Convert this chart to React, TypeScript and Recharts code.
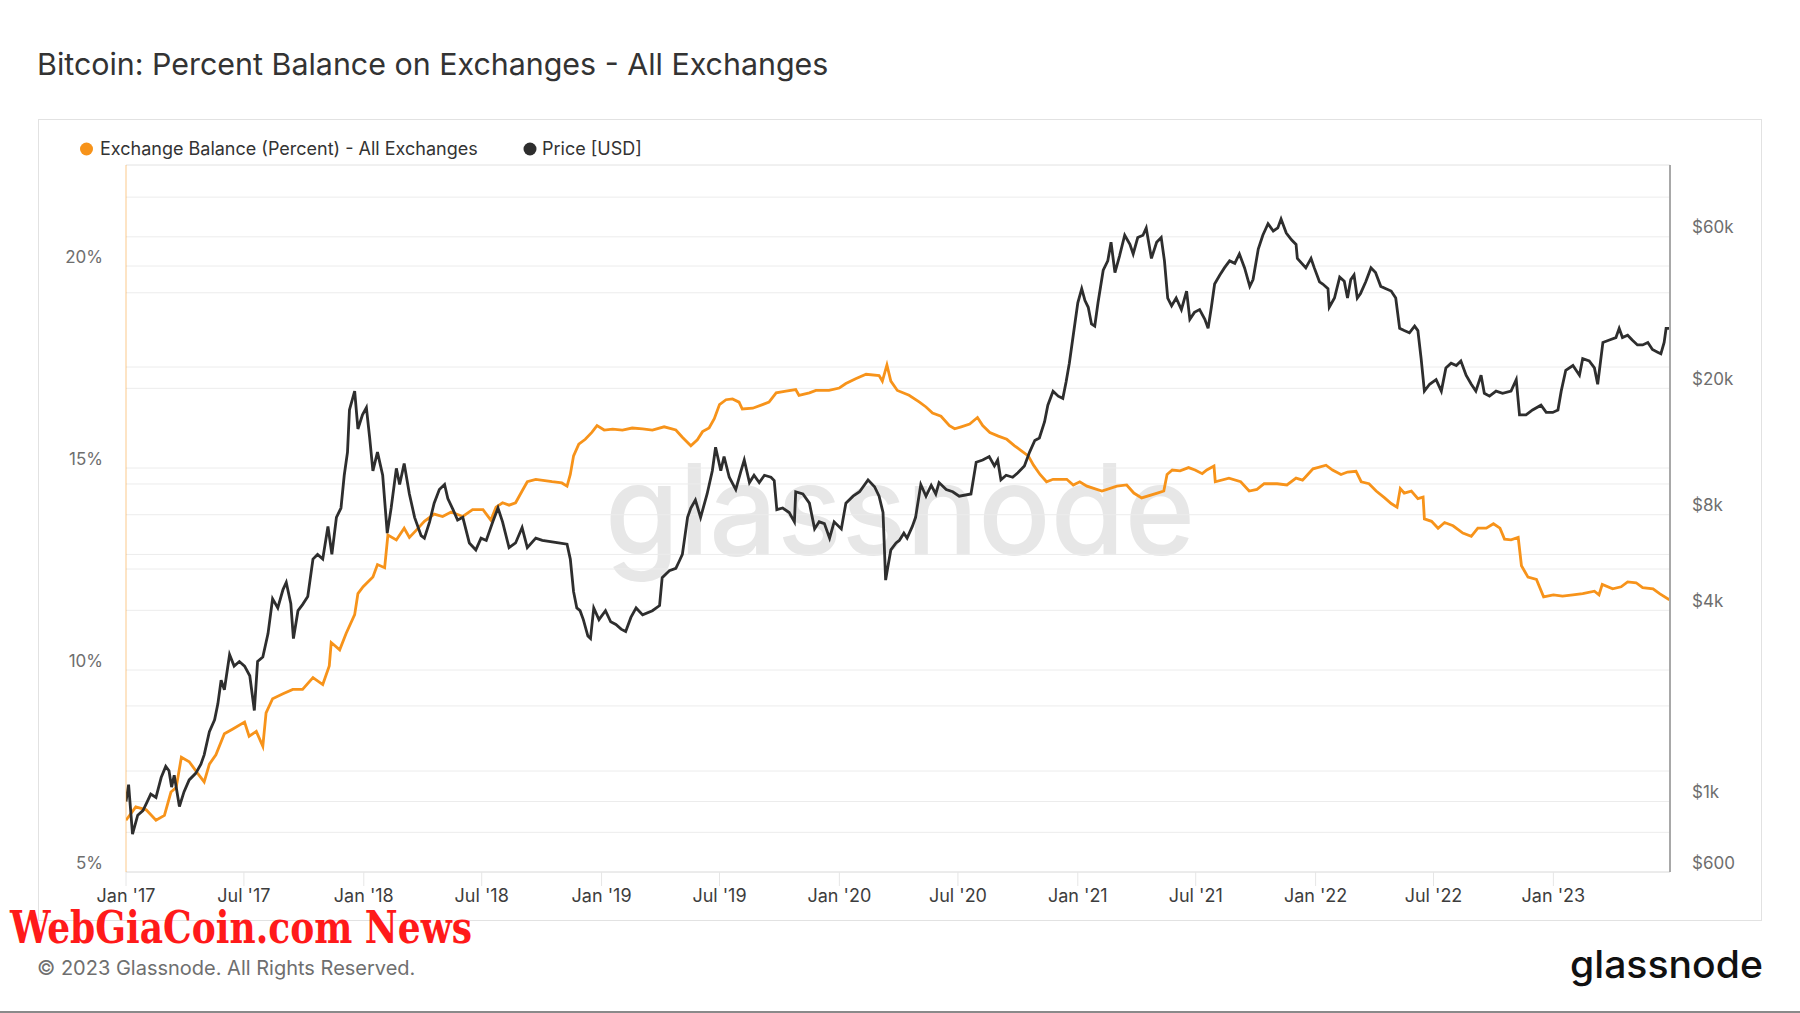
import { CartesianGrid, Line, LineChart, XAxis, YAxis } from "recharts";

const W = 1800;
const H = 1013;

const BALANCE_DATES = [
  "2017-01-01", "2017-01-16", "2017-02-01", "2017-02-16", "2017-03-01", "2017-03-11", "2017-03-19", "2017-03-27",
  "2017-04-08", "2017-04-21", "2017-05-01", "2017-05-09", "2017-05-19", "2017-06-01", "2017-06-14", "2017-07-02",
  "2017-07-09", "2017-07-20", "2017-07-30", "2017-08-04", "2017-08-14", "2017-08-30", "2017-09-14", "2017-09-29",
  "2017-10-15", "2017-10-30", "2017-11-09", "2017-11-12", "2017-11-25", "2017-12-05", "2017-12-18", "2017-12-23",
  "2017-12-31", "2018-01-15", "2018-01-22", "2018-02-02", "2018-02-07", "2018-02-20", "2018-03-04", "2018-03-12",
  "2018-03-22", "2018-04-04", "2018-04-19", "2018-05-02", "2018-05-15", "2018-06-02", "2018-06-17", "2018-07-03",
  "2018-07-15", "2018-07-23", "2018-08-02", "2018-08-12", "2018-08-22", "2018-09-01", "2018-09-09", "2018-09-22",
  "2018-10-17", "2018-11-01", "2018-11-09", "2018-11-14", "2018-11-19", "2018-11-27", "2018-12-07", "2018-12-17",
  "2018-12-25", "2019-01-05", "2019-01-18", "2019-02-02", "2019-02-17", "2019-03-05", "2019-03-20", "2019-04-07",
  "2019-04-25", "2019-05-05", "2019-05-18", "2019-05-28", "2019-06-05", "2019-06-15", "2019-06-23", "2019-07-01",
  "2019-07-11", "2019-07-21", "2019-07-31", "2019-08-05", "2019-08-21", "2019-09-05", "2019-09-15", "2019-09-26",
  "2019-10-11", "2019-10-26", "2019-10-31", "2019-11-16", "2019-11-26", "2019-12-16", "2020-01-01", "2020-01-11",
  "2020-01-26", "2020-02-11", "2020-03-02", "2020-03-07", "2020-03-14", "2020-03-20", "2020-03-30", "2020-04-17",
  "2020-05-03", "2020-05-13", "2020-05-23", "2020-06-05", "2020-06-18", "2020-06-26", "2020-07-06", "2020-07-19",
  "2020-07-31", "2020-08-08", "2020-08-19", "2020-09-01", "2020-09-14", "2020-09-26", "2020-10-07", "2020-10-17",
  "2020-10-25", "2020-11-04", "2020-11-14", "2020-11-24", "2020-12-15", "2020-12-25", "2021-01-04", "2021-01-15",
  "2021-02-07", "2021-03-02", "2021-03-17", "2021-03-28", "2021-04-09", "2021-05-03", "2021-05-13", "2021-05-18",
  "2021-05-26", "2021-06-07", "2021-06-20", "2021-06-30", "2021-07-11", "2021-07-18", "2021-07-29", "2021-07-31",
  "2021-08-21", "2021-09-08", "2021-09-21", "2021-10-03", "2021-10-14", "2021-11-03", "2021-11-18", "2021-12-02",
  "2021-12-12", "2021-12-20", "2021-12-28", "2022-01-04", "2022-01-17", "2022-01-27", "2022-02-09", "2022-02-19",
  "2022-03-04", "2022-03-12", "2022-03-24", "2022-04-04", "2022-04-17", "2022-04-27", "2022-05-06", "2022-05-11",
  "2022-05-17", "2022-05-28", "2022-06-07", "2022-06-15", "2022-06-17", "2022-06-28", "2022-07-08", "2022-07-18",
  "2022-07-31", "2022-08-15", "2022-08-28", "2022-09-07", "2022-09-20", "2022-10-01", "2022-10-11", "2022-10-18",
  "2022-10-28", "2022-11-08", "2022-11-13", "2022-11-23", "2022-12-06", "2022-12-17", "2023-01-01", "2023-01-15",
  "2023-01-31", "2023-02-15", "2023-03-05", "2023-03-12", "2023-03-17", "2023-04-02", "2023-04-15", "2023-04-25",
  "2023-05-08", "2023-05-18", "2023-06-03", "2023-06-13", "2023-06-28",
];

const BALANCE_PCT = [
  6.28, 6.61, 6.54, 6.28, 6.4, 6.98, 7.09, 7.84,
  7.73, 7.44, 7.23, 7.67, 7.9, 8.42, 8.54, 8.71,
  8.36, 8.48, 8.11, 8.94, 9.29, 9.41, 9.52, 9.52,
  9.81, 9.64, 10.1, 10.68, 10.5, 10.91, 11.37, 11.89,
  12.06, 12.3, 12.61, 12.53, 13.34, 13.22, 13.51, 13.28,
  13.45, 13.68, 13.86, 13.8, 13.91, 13.8, 13.97, 13.97,
  13.71, 14.03, 14.14, 14.08, 14.14, 14.43, 14.66, 14.72,
  14.66, 14.63, 14.55, 14.84, 15.3, 15.59, 15.71, 15.88,
  16.05, 15.94, 15.96, 15.94, 15.99, 15.97, 15.94, 16.02,
  15.94, 15.76, 15.55, 15.7, 15.9, 15.99, 16.22, 16.57,
  16.69, 16.71, 16.63, 16.46, 16.48, 16.57, 16.63, 16.86,
  16.9, 16.94, 16.8, 16.86, 16.92, 16.92, 16.98, 17.09,
  17.21, 17.32, 17.29, 17.15, 17.55, 17.15, 16.92, 16.8,
  16.63, 16.51, 16.36, 16.28, 16.05, 15.97, 16.02, 16.09,
  16.25, 16.05, 15.88, 15.79, 15.71, 15.55, 15.42, 15.3,
  15.07, 14.84, 14.66, 14.72, 14.72, 14.58, 14.66, 14.55,
  14.43, 14.55, 14.58, 14.38, 14.26, 14.38, 14.43, 14.84,
  14.95, 14.93, 15.01, 14.95, 14.86, 14.95, 15.05, 14.66,
  14.75, 14.66, 14.43, 14.47, 14.61, 14.61, 14.58, 14.75,
  14.7, 14.84, 14.98, 15.01, 15.07, 14.95, 14.84, 14.9,
  14.92, 14.66, 14.61, 14.43, 14.26, 14.12, 14.03, 14.49,
  14.38, 14.43, 14.24, 14.28, 13.74, 13.68, 13.51, 13.65,
  13.57, 13.39, 13.31, 13.51, 13.51, 13.62, 13.51, 13.24,
  13.22, 13.28, 12.58, 12.3, 12.24, 11.81, 11.86, 11.83,
  11.86, 11.89, 11.95, 11.86, 12.12, 12.01, 12.06, 12.18,
  12.16, 12.04, 12.01, 11.89, 11.74,
];

const PRICE_DATES = [
  "2017-01-01", "2017-01-05", "2017-01-11", "2017-01-19", "2017-01-27", "2017-02-03", "2017-02-08", "2017-02-16",
  "2017-02-24", "2017-03-03", "2017-03-08", "2017-03-12", "2017-03-16", "2017-03-24", "2017-03-31", "2017-04-08",
  "2017-04-18", "2017-04-26", "2017-05-01", "2017-05-09", "2017-05-17", "2017-05-22", "2017-05-27", "2017-06-01",
  "2017-06-09", "2017-06-16", "2017-06-24", "2017-07-02", "2017-07-10", "2017-07-17", "2017-07-22", "2017-07-30",
  "2017-08-07", "2017-08-14", "2017-08-22", "2017-08-30", "2017-09-04", "2017-09-11", "2017-09-15", "2017-09-22",
  "2017-09-29", "2017-10-07", "2017-10-15", "2017-10-22", "2017-10-30", "2017-11-07", "2017-11-13", "2017-11-20",
  "2017-11-27", "2017-12-02", "2017-12-07", "2017-12-10", "2017-12-18", "2017-12-23", "2017-12-30", "2018-01-05",
  "2018-01-10", "2018-01-15", "2018-01-22", "2018-01-30", "2018-02-06", "2018-02-12", "2018-02-20", "2018-02-25",
  "2018-03-04", "2018-03-12", "2018-03-20", "2018-03-30", "2018-04-04", "2018-04-12", "2018-04-19", "2018-04-27",
  "2018-05-05", "2018-05-10", "2018-05-18", "2018-05-25", "2018-06-02", "2018-06-12", "2018-06-22", "2018-06-30",
  "2018-07-08", "2018-07-18", "2018-07-26", "2018-08-02", "2018-08-12", "2018-08-22", "2018-09-01", "2018-09-09",
  "2018-09-22", "2018-10-02", "2018-10-27", "2018-11-09", "2018-11-14", "2018-11-19", "2018-11-24", "2018-11-29",
  "2018-12-04", "2018-12-11", "2018-12-15", "2018-12-20", "2018-12-28", "2019-01-07", "2019-01-15", "2019-01-23",
  "2019-01-31", "2019-02-07", "2019-02-15", "2019-02-23", "2019-03-05", "2019-03-20", "2019-03-31", "2019-04-04",
  "2019-04-15", "2019-04-25", "2019-04-30", "2019-05-05", "2019-05-13", "2019-05-18", "2019-05-25", "2019-06-02",
  "2019-06-12", "2019-06-20", "2019-06-25", "2019-07-03", "2019-07-08", "2019-07-16", "2019-07-26", "2019-08-03",
  "2019-08-08", "2019-08-16", "2019-08-23", "2019-08-31", "2019-09-08", "2019-09-18", "2019-09-23", "2019-09-27",
  "2019-10-06", "2019-10-16", "2019-10-24", "2019-10-26", "2019-11-06", "2019-11-16", "2019-11-24", "2019-12-01",
  "2019-12-09", "2019-12-17", "2019-12-24", "2020-01-04", "2020-01-11", "2020-01-22", "2020-02-01", "2020-02-14",
  "2020-02-24", "2020-03-02", "2020-03-08", "2020-03-12", "2020-03-15", "2020-03-20", "2020-03-28", "2020-04-02",
  "2020-04-09", "2020-04-14", "2020-04-22", "2020-04-27", "2020-05-05", "2020-05-13", "2020-05-21", "2020-05-28",
  "2020-06-02", "2020-06-13", "2020-06-23", "2020-07-03", "2020-07-21", "2020-07-29", "2020-08-08", "2020-08-18",
  "2020-08-26", "2020-08-31", "2020-09-05", "2020-09-13", "2020-09-23", "2020-10-01", "2020-10-11", "2020-10-19",
  "2020-10-27", "2020-11-03", "2020-11-11", "2020-11-16", "2020-11-24", "2020-12-02", "2020-12-09", "2020-12-14",
  "2020-12-19", "2020-12-25", "2021-01-01", "2021-01-07", "2021-01-12", "2021-01-17", "2021-01-22", "2021-01-27",
  "2021-02-01", "2021-02-09", "2021-02-16", "2021-02-21", "2021-02-27", "2021-03-06", "2021-03-14", "2021-03-22",
  "2021-03-27", "2021-04-03", "2021-04-11", "2021-04-16", "2021-04-24", "2021-05-02", "2021-05-09", "2021-05-14",
  "2021-05-19", "2021-05-25", "2021-06-01", "2021-06-09", "2021-06-17", "2021-06-22", "2021-06-29", "2021-07-07",
  "2021-07-15", "2021-07-20", "2021-07-25", "2021-07-30", "2021-08-07", "2021-08-14", "2021-08-22", "2021-08-30",
  "2021-09-06", "2021-09-14", "2021-09-22", "2021-09-27", "2021-10-05", "2021-10-12", "2021-10-20", "2021-10-28",
  "2021-11-04", "2021-11-09", "2021-11-17", "2021-11-25", "2021-12-02", "2021-12-04", "2021-12-17", "2021-12-25",
  "2021-12-30", "2022-01-07", "2022-01-12", "2022-01-20", "2022-01-22", "2022-01-30", "2022-02-07", "2022-02-14",
  "2022-02-19", "2022-02-24", "2022-03-01", "2022-03-06", "2022-03-11", "2022-03-19", "2022-03-27", "2022-04-03",
  "2022-04-11", "2022-04-19", "2022-04-27", "2022-05-04", "2022-05-10", "2022-05-17", "2022-05-25", "2022-06-02",
  "2022-06-07", "2022-06-12", "2022-06-17", "2022-06-25", "2022-07-05", "2022-07-13", "2022-07-20", "2022-07-28",
  "2022-08-05", "2022-08-12", "2022-08-20", "2022-08-28", "2022-09-04", "2022-09-12", "2022-09-17", "2022-09-25",
  "2022-10-05", "2022-10-15", "2022-10-28", "2022-11-05", "2022-11-10", "2022-11-20", "2022-11-30", "2022-12-13",
  "2022-12-21", "2022-12-31", "2023-01-08", "2023-01-13", "2023-01-20", "2023-01-31", "2023-02-10", "2023-02-15",
  "2023-02-25", "2023-03-05", "2023-03-10", "2023-03-18", "2023-03-28", "2023-04-07", "2023-04-12", "2023-04-17",
  "2023-04-25", "2023-05-02", "2023-05-10", "2023-05-18", "2023-05-26", "2023-06-02", "2023-06-10", "2023-06-15",
  "2023-06-20", "2023-06-23", "2023-06-28",
];

const PRICE_USD = [
  1000, 1130, 790, 906, 937, 1003, 1055, 1030,
  1190, 1290, 1250, 1110, 1210, 965, 1072, 1170,
  1227, 1312, 1403, 1660, 1810, 2030, 2410, 2250,
  2900, 2670, 2760, 2670, 2490, 1935, 2760, 2850,
  3380, 4350, 4070, 4650, 4900, 4200, 3260, 3990,
  4170, 4420, 5800, 6000, 5800, 7350, 6000, 7850,
  8400, 10650, 12600, 17100, 19600, 14900, 16500, 17400,
  14000, 11000, 12600, 10650, 7000, 8400, 11200, 9960,
  11600, 9300, 7850, 6870, 6750, 7600, 8700, 9600,
  9960, 9000, 8300, 7700, 7850, 6520, 6200, 6750,
  6640, 7600, 8400, 7600, 6300, 6520, 7290, 6300,
  6750, 6640, 6520, 6460, 5800, 4580, 4070, 3990,
  3740, 3320, 3260, 4070, 3740, 3990, 3680, 3610,
  3490, 3430, 3800, 4070, 3870, 3990, 4140, 5070,
  5330, 5420, 5700, 6000, 7850, 8400, 8900, 7850,
  9300, 11000, 13050, 11000, 12200, 10500, 9600, 11000,
  11900, 10100, 10650, 10100, 10650, 10500, 10250, 8300,
  8400, 8130, 7600, 9450, 9300, 8700, 7220, 7600,
  7500, 6750, 7600, 7220, 8700, 9150, 9450, 10300,
  9800, 9150, 8130, 4980, 5420, 6200, 6520, 6640,
  7000, 6750, 7350, 7850, 9960, 9150, 9900, 9300,
  10100, 9600, 9450, 9150, 9300, 11700, 11900, 12200,
  11400, 11900, 10300, 10650, 10500, 10850, 11400, 12600,
  13700, 13960, 15700, 17700, 19600, 18900, 18600, 20950,
  24000, 29400, 37200, 41200, 37800, 36000, 31900, 31400,
  37200, 47100, 50400, 57700, 46300, 52200, 60700, 56800,
  53000, 59700, 60700, 64000, 51300, 57700, 59700, 50400,
  38500, 36400, 38500, 35400, 40500, 33000, 34700, 35400,
  33000, 30900, 36000, 42600, 45500, 47900, 50400, 49500,
  53000, 47900, 41900, 44000, 54900, 60700, 66000, 62600,
  64000, 68300, 61700, 58700, 56800, 51300, 47900, 51300,
  47900, 43300, 42600, 41200, 36000, 38500, 44800, 43500,
  38500, 44000, 45500, 38500, 39800, 43300, 47900, 46300,
  41900, 41200, 40500, 38500, 30900, 30400, 29900, 31400,
  30400, 24800, 19600, 20600, 21300, 19600, 23200, 24000,
  23600, 24400, 22000, 20600, 19600, 22000, 19300, 18900,
  19600, 19300, 19600, 21300, 16500, 16500, 17100, 17700,
  16800, 16800, 17100, 19600, 22800, 23600, 22000, 24800,
  24400, 23200, 20600, 27900, 28400, 28900, 30900, 28900,
  29400, 28400, 27400, 27400, 27900, 26500, 26000, 25700,
  27900, 30900, 30900,
];

const X_TICKS = [
  "2017-01-01", "2017-07-01", "2018-01-01", "2018-07-01", "2019-01-01", "2019-07-01", "2020-01-01",
  "2020-07-01", "2021-01-01", "2021-07-01", "2022-01-01", "2022-07-01", "2023-01-01",
];
const X_START = "2017-01-01";
const X_END = "2023-06-29";

const PCT_TICKS = [5, 7.5, 10, 12.5, 15, 17.5, 20, 22.5];
const USD_TICKS = [600, 800, 1000, 2000, 4000, 6000, 8000, 10000, 20000, 40000, 60000, 80000];
const USD_LABELS: Record<number, string> = {
  600: "$600",
  1000: "$1k",
  4000: "$4k",
  8000: "$8k",
  20000: "$20k",
  60000: "$60k",
};

const ORANGE = "#f7931a";
const BLACK = "#2e2e2e";
const GRID = "#ececec";
const FONT = "Inter, 'Noto Sans', sans-serif";
const LINE_WIDTH = 2.8;

const balanceData = BALANCE_DATES.map((d, i) => ({ t: Date.parse(d), balance: BALANCE_PCT[i] }));
const priceData = PRICE_DATES.map((d, i) => ({ t: Date.parse(d), price: PRICE_USD[i] }));
const xTicks = X_TICKS.map((d) => Date.parse(d));

const MONTHS = ["Jan", "Feb", "Mar", "Apr", "May", "Jun", "Jul", "Aug", "Sep", "Oct", "Nov", "Dec"];

function formatDate(t: number) {
  const d = new Date(t);
  return `${MONTHS[d.getUTCMonth()]} '${String(d.getUTCFullYear()).slice(2)}`;
}

function XTick({ x, y, payload }: any) {
  return (
    <text x={x} y={y} dy={14} textAnchor="middle" fill="#3d3d3d" fontSize={18} fontFamily={FONT}>
      {formatDate(payload.value)}
    </text>
  );
}

function PctTick({ x, y, payload }: any) {
  if (payload.value % 5 !== 0) return null;
  return (
    <text x={x} y={y} dy={-3} textAnchor="end" fill="#6e6e6e" fontSize={17} fontFamily={FONT}>
      {`${payload.value}%`}
    </text>
  );
}

function UsdTick({ x, y, payload }: any) {
  const label = USD_LABELS[payload.value];
  if (!label) return null;
  return (
    <text x={x} y={y} dy={-3.5} textAnchor="start" fill="#6e6e6e" fontSize={17} fontFamily={FONT}>
      {label}
    </text>
  );
}

export default function App() {
  return (
    <div
      style={{
        position: "absolute",
        left: 0,
        top: 0,
        width: W,
        height: H,
        background: "#fff",
        overflow: "hidden",
        fontFamily: FONT,
      }}
    >
      <div
        style={{
          position: "absolute",
          left: 38,
          top: 119,
          width: 1724,
          height: 802,
          border: "1px solid #e2e2e2",
          boxSizing: "border-box",
        }}
      />

      <svg width={W} height={H} style={{ position: "absolute", left: 0, top: 0 }}>
        <text
          x={605}
          y={555}
          fontSize={126}
          fontWeight={500}
          fill="#e7e7e7"
          fontFamily={FONT}
          textLength={590}
          lengthAdjust="spacingAndGlyphs"
        >
          glassnode
        </text>
      </svg>

      <div style={{ position: "absolute", left: 0, top: 0 }}>
        <LineChart width={W} height={H} margin={{ top: 165, right: 50, bottom: 101, left: 66 }}>
          <CartesianGrid yAxisId="pct" vertical={false} stroke={GRID} />
          <CartesianGrid yAxisId="usd" vertical={false} stroke={GRID} />
          <XAxis
            dataKey="t"
            type="number"
            domain={[Date.parse(X_START), Date.parse(X_END)]}
            ticks={xTicks}
            height={40}
            axisLine={{ stroke: "#e6e6e6" }}
            tickLine={{ stroke: "#e6e6e6" }}
            tickSize={14}
            tickMargin={2}
            tick={<XTick />}
            allowDataOverflow
          />
          <YAxis
            yAxisId="pct"
            orientation="left"
            domain={[5, 22.5]}
            ticks={PCT_TICKS}
            width={60}
            axisLine={{ stroke: ORANGE, strokeOpacity: 0.5 }}
            tickLine={false}
            tickSize={0}
            tickMargin={23}
            tick={<PctTick />}
            allowDataOverflow
          />
          <YAxis
            yAxisId="usd"
            orientation="right"
            scale="log"
            domain={[600, 101000]}
            ticks={USD_TICKS}
            width={80}
            axisLine={{ stroke: "#a8a8a8", strokeWidth: 2 }}
            tickLine={false}
            tickSize={0}
            tickMargin={22}
            tick={<UsdTick />}
            allowDataOverflow
          />
          <Line
            yAxisId="pct"
            data={balanceData}
            dataKey="balance"
            name="Exchange Balance (Percent) - All Exchanges"
            type="linear"
            stroke={ORANGE}
            strokeWidth={LINE_WIDTH}
            dot={false}
            isAnimationActive={false}
          />
          <Line
            yAxisId="usd"
            data={priceData}
            dataKey="price"
            name="Price [USD]"
            type="linear"
            stroke={BLACK}
            strokeWidth={LINE_WIDTH}
            dot={false}
            isAnimationActive={false}
          />
        </LineChart>
      </div>

      <svg width={W} height={H} style={{ position: "absolute", left: 0, top: 0, pointerEvents: "none" }}>
        <text x={37} y={75} fontSize={30.4} fill="#333" fontFamily={FONT}>
          Bitcoin: Percent Balance on Exchanges - All Exchanges
        </text>

        <circle cx={86.5} cy={149} r={6.5} fill={ORANGE} />
        <text x={100} y={155} fontSize={18} fill="#333" fontFamily={FONT}>
          Exchange Balance (Percent) - All Exchanges
        </text>
        <circle cx={530} cy={149} r={6.5} fill={BLACK} />
        <text x={542} y={155} fontSize={18} fill="#333" fontFamily={FONT}>
          Price [USD]
        </text>

        <text
          x={10}
          y={943}
          fontSize={45}
          fontWeight={700}
          fill="#ff1a1a"
          fontFamily="'DejaVu Serif Condensed', 'DejaVu Serif', serif"
          textLength={462}
          lengthAdjust="spacingAndGlyphs"
        >
          WebGiaCoin.com News
        </text>

        <text x={37} y={975} fontSize={20} fill="#6f6f6f" fontFamily={FONT}>
          © 2023 Glassnode. All Rights Reserved.
        </text>

        <text
          x={1570}
          y={978}
          fontSize={38}
          fontWeight={500}
          fill="#111"
          fontFamily={FONT}
          textLength={193}
          lengthAdjust="spacingAndGlyphs"
        >
          glassnode
        </text>

        <rect x={0} y={1011} width={W} height={2} fill="#8a8a8a" />
      </svg>
    </div>
  );
}
